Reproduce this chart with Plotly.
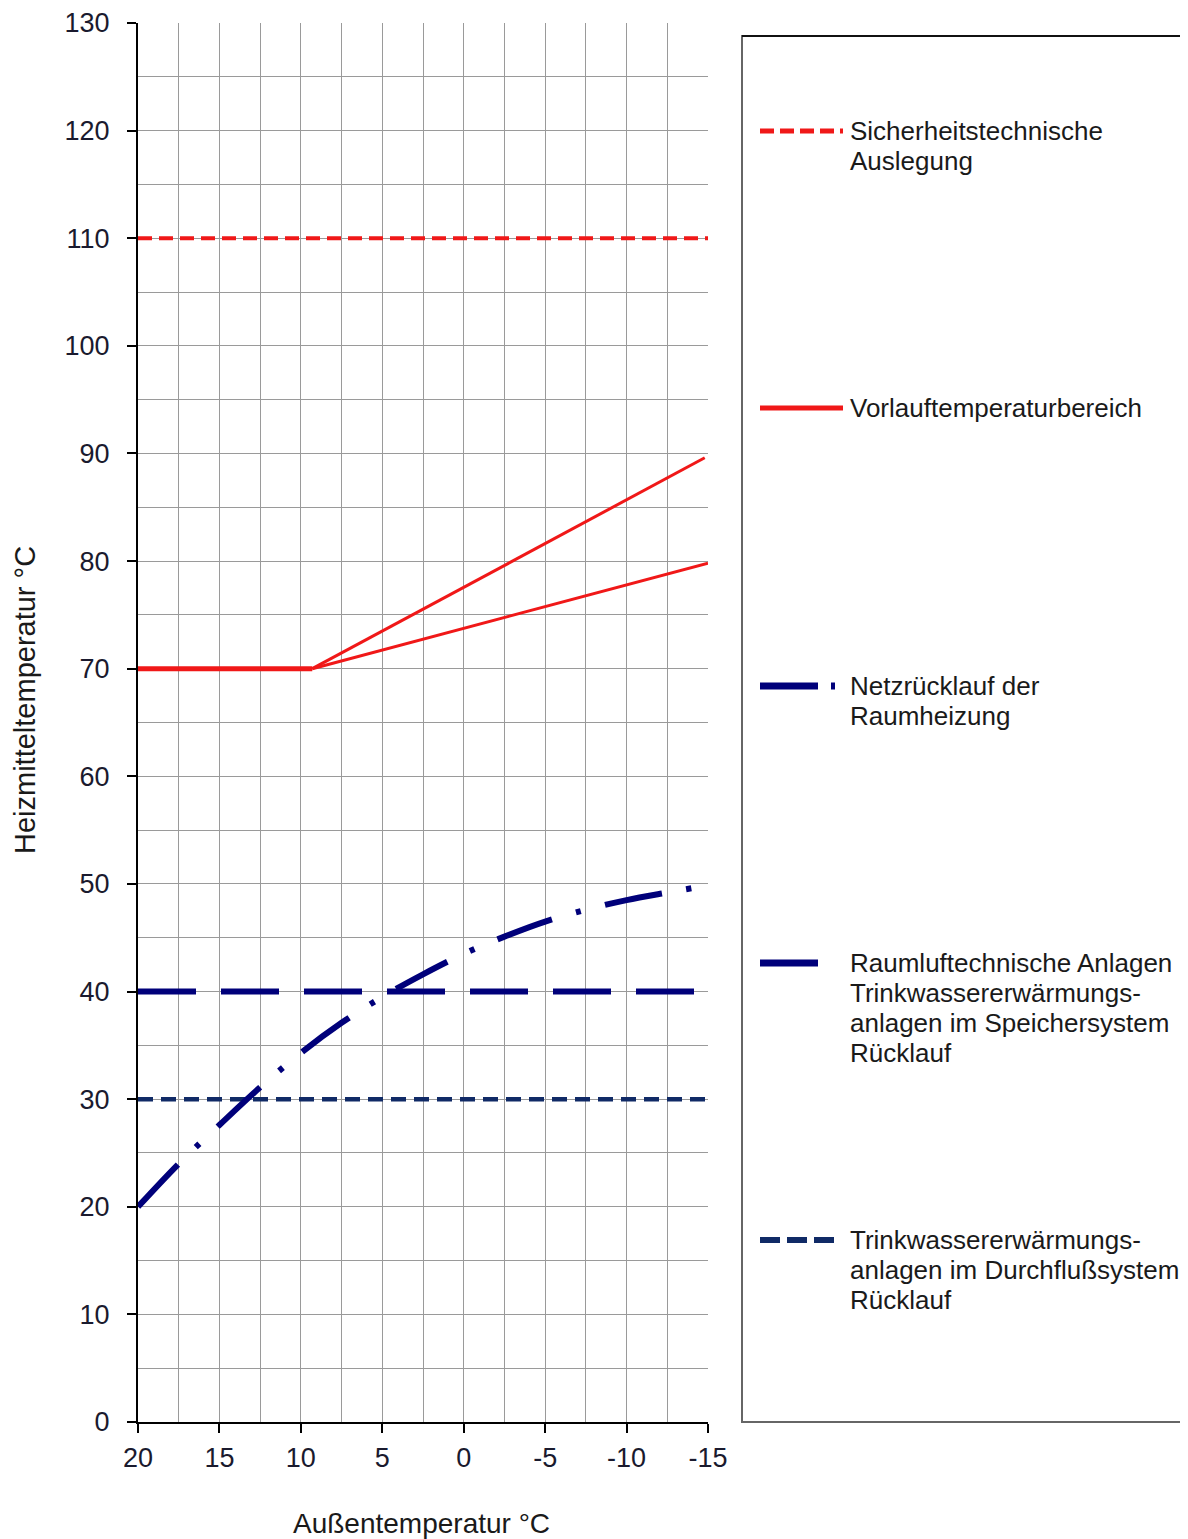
import plotly.graph_objects as go

# Außentemperatur (x) / Heizmitteltemperatur (y)
x_ticks = [20, 15, 10, 5, 0, -5, -10, -15]
x_ticklabels = ["20", "15", "10", "5", "0", "-5", "-10", "-15"]

sicherheit_x = [20, -15]
sicherheit_y = [110, 110]

vorlauf_flat_x = [20, 9.3]
vorlauf_flat_y = [70, 70]
vorlauf_hi_x = [9.3, -14.8]
vorlauf_hi_y = [70, 89.6]
vorlauf_lo_x = [9.3, -15]
vorlauf_lo_y = [70, 79.8]

netz_x = [20, 17.5, 15, 12.5, 10, 7.5, 5, 2.5, 0, -2.5, -5, -7.5, -10, -12.5, -14]
netz_y = [20, 24, 27.6, 31.1, 34.3, 37.1, 39.5, 41.6, 43.5, 45.1, 46.5, 47.6, 48.5, 49.2, 49.6]

rlt_x = [20, -15]
rlt_y = [40, 40]

durchfluss_x = [20, -15]
durchfluss_y = [30, 30]

legend_labels = [
    ["Sicherheitstechnische", "Auslegung"],
    ["Vorlauftemperaturbereich"],
    ["Netzrücklauf der", "Raumheizung"],
    ["Raumluftechnische Anlagen", "Trinkwassererwärmungs-", "anlagen im Speichersystem", "Rücklauf"],
    ["Trinkwassererwärmungs-", "anlagen im Durchflußsystem", "Rücklauf"],
]

RED = "#f01818"
NAVY = "#00007a"
NAVY2 = "#102a66"

# page has an 8px body margin, so the figure is drawn 8px smaller / shifted
OFF = 8
W, H = 1188 - OFF, 1539 - OFF
L, R, T, B = 138, 708, 23, 1422  # plot area in reference pixels


def px(x):
    return (x - L) / (R - L)


def py(y):
    return (B - y) / (B - T)


fig = go.Figure()

fig.add_trace(go.Scatter(x=sicherheit_x, y=sicherheit_y, mode="lines",
                         line=dict(color=RED, width=4, dash="14px,7px")))
fig.add_trace(go.Scatter(x=vorlauf_flat_x, y=vorlauf_flat_y, mode="lines",
                         line=dict(color=RED, width=5)))
fig.add_trace(go.Scatter(x=vorlauf_hi_x, y=vorlauf_hi_y, mode="lines",
                         line=dict(color=RED, width=3)))
fig.add_trace(go.Scatter(x=vorlauf_lo_x, y=vorlauf_lo_y, mode="lines",
                         line=dict(color=RED, width=3)))
fig.add_trace(go.Scatter(x=rlt_x, y=rlt_y, mode="lines",
                         line=dict(color=NAVY, width=6, dash="58px,25px")))
fig.add_trace(go.Scatter(x=durchfluss_x, y=durchfluss_y, mode="lines",
                         line=dict(color=NAVY2, width=4.5, dash="15px,8px")))
fig.add_trace(go.Scatter(x=netz_x, y=netz_y, mode="lines", line_shape="spline",
                         line=dict(color=NAVY, width=6, dash="58px,25px,5px,25px")))

# hand-built legend in the box on the right
shapes = [dict(type="rect", xref="paper", yref="paper",
               x0=px(742), x1=px(1200), y0=py(1422), y1=py(36),
               line=dict(color="#666", width=2), fillcolor="rgba(0,0,0,0)"),
          dict(type="line", xref="paper", yref="paper",
               x0=px(742), x1=px(1200), y0=py(36), y1=py(36),
               line=dict(color="#111", width=2))]
samples = [
    (131, RED, 5, "14px,6px", 760, 843),
    (408, RED, 5, None, 760, 843),
    (686, NAVY, 7, "58px,13px,4px,100px", 760, 838),
    (963, NAVY, 7, None, 760, 818),
    (1240, NAVY2, 6, "20px,7px", 760, 834),
]
for yy, col, wd, dash, xa, xb in samples:
    ln = dict(color=col, width=wd)
    if dash:
        ln["dash"] = dash
    shapes.append(dict(type="line", xref="paper", yref="paper",
                       x0=px(xa), x1=px(xb), y0=py(yy), y1=py(yy), line=ln))

annotations = []
for (yy, *_), lines in zip(samples, legend_labels):
    for i, t in enumerate(lines):
        annotations.append(dict(xref="paper", yref="paper", x=px(848), y=py(yy + 30 * i),
                                text=t, showarrow=False, xanchor="left", yanchor="middle",
                                font=dict(size=26, color="#1a1a1a")))

annotations.append(dict(xref="paper", yref="paper", x=px(25), y=py(700),
                        xanchor="center", yanchor="middle",
                        text="Heizmitteltemperatur °C", textangle=-90, showarrow=False,
                        font=dict(size=29, color="#1a1a1a")))
annotations.append(dict(xref="paper", yref="paper", x=px(421), y=py(1523),
                        xanchor="center", yanchor="middle",
                        text="Außentemperatur °C", showarrow=False,
                        font=dict(size=28, color="#1a1a1a")))

grid = "#9a9a9a"
fig.update_layout(
    width=W, height=H,
    margin=dict(l=L - OFF, r=W - (R - OFF), t=T - OFF, b=H - (B - OFF)),
    paper_bgcolor="white", plot_bgcolor="white",
    showlegend=False,
    font=dict(family="Liberation Sans, Arial, sans-serif", size=27, color="#1a1a2e"),
    shapes=shapes, annotations=annotations,
    xaxis=dict(range=[20, -15], autorange=False, tickmode="array",
               tickvals=x_ticks, ticktext=x_ticklabels, automargin=False,
               showgrid=True, gridcolor=grid, gridwidth=1, zeroline=False,
               showline=True, linecolor="black", linewidth=2,
               ticks="outside", ticklen=9, tickwidth=2, tickcolor="black",
               ticklabelstandoff=2,
               minor=dict(dtick=2.5, tick0=0, showgrid=True, gridcolor=grid, gridwidth=1)),
    yaxis=dict(range=[0, 130], autorange=False, tick0=0, dtick=10, automargin=False,
               showgrid=True, gridcolor=grid, gridwidth=1, zeroline=False,
               showline=True, linecolor="black", linewidth=2,
               ticks="outside", ticklen=9, tickwidth=2, tickcolor="black",
               ticklabelstandoff=12,
               minor=dict(dtick=5, tick0=0, showgrid=True, gridcolor=grid, gridwidth=1)),
)

fig.write_html("out.html")
